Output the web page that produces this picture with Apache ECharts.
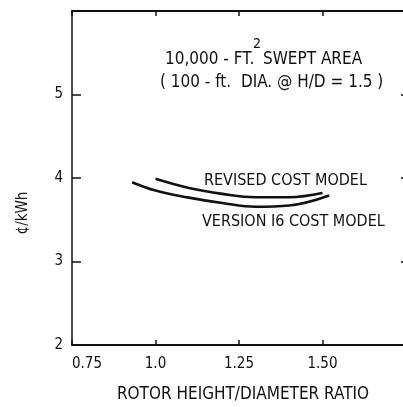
<!DOCTYPE html>
<html>
<head>
<meta charset="utf-8">
<script src="https://cdn.jsdelivr.net/npm/echarts@6/dist/echarts.min.js"></script>
<style>
  html, body { margin: 0; padding: 0; background: #fff; }
  #chart { width: 403px; height: 407px; }
</style>
</head>
<body>
<div id="chart"></div>
<script>
// Rotor height/diameter ratio vs. energy cost (cents per kWh)
const revisedX = [1.0, 1.1, 1.2, 1.3, 1.4, 1.5];
const revisedY = [3.99, 3.88, 3.81, 3.77, 3.77, 3.82];

const version16X = [0.93, 1.0, 1.1, 1.2, 1.3, 1.4, 1.52];
const version16Y = [3.95, 3.85, 3.765, 3.70, 3.655, 3.67, 3.79];

const xTickLabels = ['0.75', '1.0', '1.25', '1.50'];
const yTickLabels = ['2', '3', '4', '5'];

const FONT = '"DejaVu Sans Condensed", "Liberation Sans Narrow", sans-serif';
const INK = '#111';

const pairs = (xs, ys) => xs.map((x, i) => [x, ys[i]]);

const chart = echarts.init(document.getElementById('chart'), null, { renderer: 'canvas' });

chart.setOption({
  backgroundColor: '#fff',
  animation: false,
  grid: { left: 72, top: 11, width: 334, height: 334, outerBoundsMode: 'none', containLabel: false },
  xAxis: [
    {
      type: 'value', min: 0.75, max: 1.75, interval: 0.25,
      axisLine: { show: true, onZero: false, lineStyle: { color: INK, width: 2 } },
      axisTick: { show: true, inside: true, length: 5, lineStyle: { color: INK, width: 1.5 } },
      axisLabel: {
        fontFamily: FONT, fontSize: 15, color: INK, margin: 12,
        alignMinLabel: 'left',
        formatter: (v) => {
          const i = Math.round((v - 0.75) / 0.25);
          return xTickLabels[i] !== undefined ? xTickLabels[i] : '';
        }
      },
      splitLine: { show: false }
    },
    {
      type: 'value', position: 'top', min: 0.75, max: 1.75, interval: 0.25,
      axisLine: { show: true, lineStyle: { color: INK, width: 2 } },
      axisTick: { show: true, inside: true, length: 5, lineStyle: { color: INK, width: 1.5 } },
      axisLabel: { show: false },
      splitLine: { show: false }
    }
  ],
  yAxis: [
    {
      type: 'value', min: 2, max: 6, interval: 1,
      axisLine: { show: true, onZero: false, lineStyle: { color: INK, width: 1.5 } },
      axisTick: { show: true, inside: true, length: 9, lineStyle: { color: INK, width: 1.5 } },
      axisLabel: {
        fontFamily: FONT, fontSize: 15, color: INK, margin: 9,
        formatter: (v) => {
          const i = Math.round(v - 2);
          return yTickLabels[i] !== undefined ? yTickLabels[i] : '';
        }
      },
      splitLine: { show: false }
    },
    {
      type: 'value', position: 'right', min: 2, max: 6, interval: 1,
      axisLine: { show: true, lineStyle: { color: INK, width: 2 } },
      axisTick: { show: true, inside: true, length: 5, lineStyle: { color: INK, width: 1.5 } },
      axisLabel: { show: false },
      splitLine: { show: false }
    }
  ],
  series: [
    {
      name: 'REVISED COST MODEL', type: 'line', smooth: 0.4, symbol: 'none',
      lineStyle: { color: INK, width: 2.6 },
      data: pairs(revisedX, revisedY)
    },
    {
      name: 'VERSION I6 COST MODEL', type: 'line', smooth: 0.4, symbol: 'none',
      lineStyle: { color: INK, width: 2.6 },
      data: pairs(version16X, version16Y)
    }
  ],
  graphic: [
    // axis titles
    { type: 'text', x: 23, y: 213, rotation: Math.PI / 2,
      style: { text: '¢/kWh', font: '15px ' + FONT, fill: INK, align: 'center', verticalAlign: 'middle' } },
    { type: 'text', x: 243, y: 395,
      style: { text: 'ROTOR HEIGHT/DIAMETER RATIO', font: '17px ' + FONT, fill: INK, align: 'center', verticalAlign: 'middle' } },
    // heading
    { type: 'text', left: 165, top: 51,
      style: { text: '10,000 - FT.', font: '17px ' + FONT, fill: INK } },
    { type: 'text', left: 253, top: 37,
      style: { text: '2', font: '14px ' + FONT, fill: INK } },
    { type: 'text', left: 263, top: 51,
      style: { text: 'SWEPT AREA', font: '17px ' + FONT, fill: INK } },
    { type: 'text', left: 160, top: 74,
      style: { text: '( 100 - ft.  DIA. @ H/D = 1.5 )', font: '17px ' + FONT, fill: INK } },
    // curve labels
    { type: 'text', left: 204, top: 173,
      style: { text: 'REVISED COST MODEL', font: '16px ' + FONT, fill: INK } },
    { type: 'text', left: 202, top: 214,
      style: { text: 'VERSION I6 COST MODEL', font: '16px ' + FONT, fill: INK } }
  ]
});
</script>
</body>
</html>
